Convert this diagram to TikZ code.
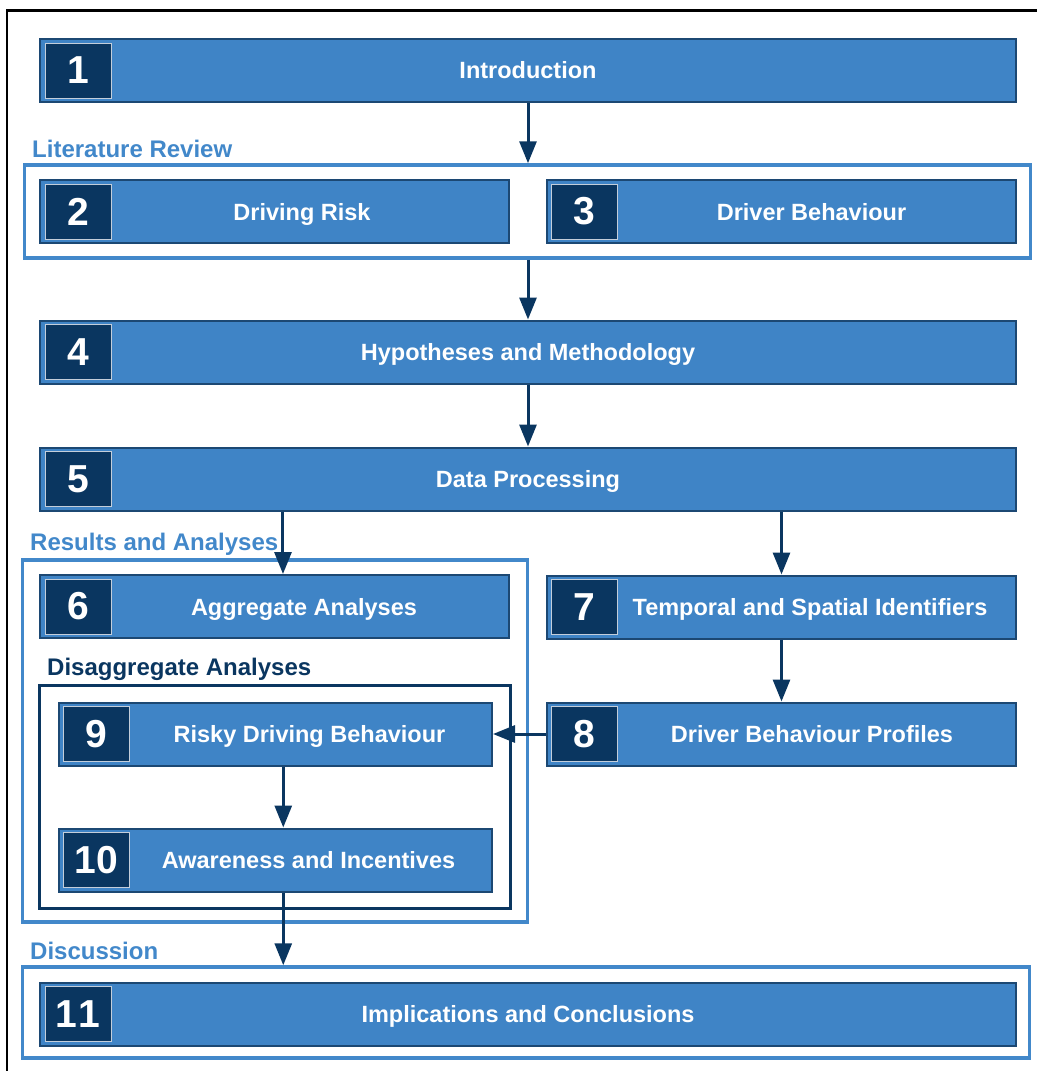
\documentclass[tikz,border=0pt]{standalone}
\usepackage{fontspec}
\setmainfont{Liberation Sans}
\usetikzlibrary{arrows.meta,calc}

\definecolor{boxblue}{RGB}{63,132,198}
\definecolor{boxedge}{RGB}{28,72,115}
\definecolor{navy}{RGB}{10,54,96}
\definecolor{numedge}{RGB}{196,206,218}
\definecolor{frameblue}{RGB}{66,136,202}

\begin{document}
\begin{tikzpicture}[x=1pt,y=-1pt,
  stage/.style={draw=boxedge, line width=2pt, fill=boxblue, inner sep=0pt, minimum height=63pt},
  numsq/.style={draw=numedge, line width=0.9pt, fill=navy, text=white,
    font=\bfseries\fontsize{39}{39}\selectfont, minimum width=66pt, minimum height=55pt, inner sep=0pt},
  title/.style={text=white, font=\bfseries\fontsize{23.5}{23.5}\selectfont, anchor=base, inner sep=0pt},
  group/.style={draw=frameblue, line width=3.5pt, inner sep=0pt},
  subgroup/.style={draw=navy, line width=3pt, inner sep=0pt},
  grouplabel/.style={text=frameblue, font=\bfseries\fontsize{24}{24}\selectfont, anchor=base west, inner sep=0pt},
  sublabel/.style={grouplabel, text=navy},
  arr/.style={draw=navy, line width=3pt, -{Triangle[width=17pt,length=22pt]}}
]
\useasboundingbox (0,0) rectangle (1037,1071);

% page edge
\draw[black, line width=2.5pt] (7,1071) -- (7,10.5) -- (1037,10.5);

% group frames
\node[group, minimum width=1006pt, minimum height=93pt] (lit) at (527.5,211.5) {};
\node[grouplabel] (litl) at (32,157) {Literature Review};
\node[group, minimum width=505pt, minimum height=362pt] (res) at (275,741) {};
\node[grouplabel] (resl) at (30,550.5) {Results and Analyses};
\node[subgroup, minimum width=471pt, minimum height=223pt] (dis) at (274.5,796.5) {};
\node[sublabel] (disl) at (47,675.5) {Disaggregate Analyses};
\node[group, minimum width=1007pt, minimum height=91pt] (disc) at (526,1012.5) {};
\node[grouplabel] (discl) at (30,959) {Discussion};

% 1
\node[stage, minimum width=976pt] (b1) at (528,70) {};
\node[numsq] (n1) at (78,70.5) {1};
\node[title] (t1) at (528,78.5) {Introduction};
% 2
\node[stage, minimum width=469pt] (b2) at (274.5,211.5) {};
\node[numsq] (n2) at (78,211.5) {2};
\node[title] (t2) at (302,220) {Driving Risk};
% 3
\node[stage, minimum width=469pt] (b3) at (781.5,211.5) {};
\node[numsq] (n3) at (584.5,211.5) {3};
\node[title] (t3) at (811.5,220) {Driver Behaviour};
% 4
\node[stage, minimum width=976pt] (b4) at (528,352) {};
\node[numsq] (n4) at (78,352) {4};
\node[title] (t4) at (528,360.5) {Hypotheses and Methodology};
% 5
\node[stage, minimum width=976pt] (b5) at (528,479) {};
\node[numsq] (n5) at (78,479) {5};
\node[title] (t5) at (528,487.5) {Data Processing};
% 6
\node[stage, minimum width=469pt] (b6) at (274.5,606.5) {};
\node[numsq] (n6) at (78,606.5) {6};
\node[title] (t6) at (304,615) {Aggregate Analyses};
% 7
\node[stage, minimum width=469pt] (b7) at (781.5,607) {};
\node[numsq] (n7) at (584.5,607) {7};
\node[title] (t7) at (810,615.5) {Temporal and Spatial Identifiers};
% 8
\node[stage, minimum width=469pt] (b8) at (781.5,734) {};
\node[numsq] (n8) at (584.5,734) {8};
\node[title] (t8) at (812,742.5) {Driver Behaviour Profiles};
% 9
\node[stage, minimum width=433pt] (b9) at (275.5,734) {};
\node[numsq] (n9) at (96.5,734) {9};
\node[title] (t9) at (309.5,742.5) {Risky Driving Behaviour};
% 10
\node[stage, minimum width=433pt] (b10) at (275,860) {};
\node[numsq] (n10) at (96.5,860) {10};
\node[title] (t10) at (308.5,868.5) {Awareness and Incentives};
% 11
\node[stage, minimum width=976pt] (b11) at (528,1014) {};
\node[numsq] (n11) at (78,1014) {1\kern1pt1};
\node[title] (t11) at (528,1022.5) {Implications and Conclusions};

% entry points slightly right of centre
\coordinate (b6in) at ($(b6.north west)!0.518!(b6.north east)$);
\coordinate (b10in) at ($(b10.north west)!0.519!(b10.north east)$);

% connectors
\draw[arr] (b1.south) -- (b1.south |- lit.north);
\draw[arr] (lit.south -| b4.north) -- (b4.north);
\draw[arr] (b4.south) -- (b5.north);
\draw[arr] (b5.south -| b6in) -- (b6in);
\draw[arr] (b5.south -| b7.north) -- (b7.north);
\draw[arr] (b7.south) -- (b8.north);
\draw[arr] (b8.west) -- (b9.east);
\draw[arr] (b9.south -| b10in) -- (b10in);
\draw[arr] (b10.south -| b10in) -- (b10in |- disc.north);
\end{tikzpicture}
\end{document}
